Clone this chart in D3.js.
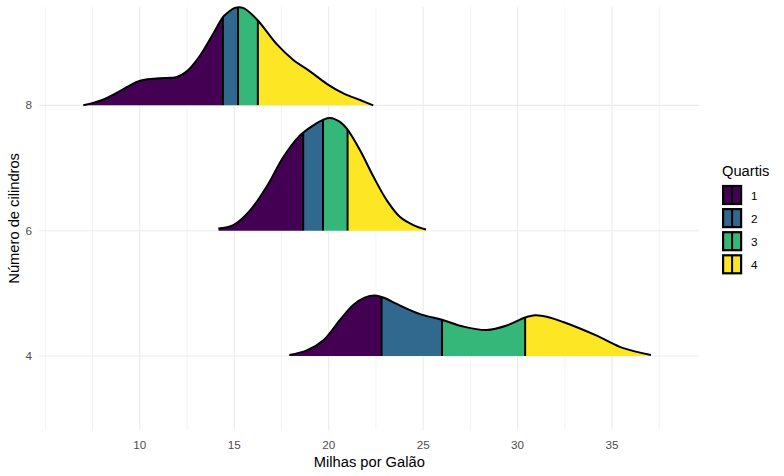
<!DOCTYPE html>
<html>
<head>
<meta charset="utf-8">
<script src="https://cdn.jsdelivr.net/npm/d3@7"></script>
<style>
  body { margin: 0; background: #fff; }
  svg text { font-family: "Liberation Sans", Arial, sans-serif; }
</style>
</head>
<body>
<div id="chart"></div>
<script>
var width = 784,
    height = 476;

// categories (cylinders), bottom to top
var cylinders = ["4", "6", "8"];

// relative density: [mpg, density]
var dens4 = [[17.92, 0.01], [18.84, 0.05], [19.72, 0.14], [20.6, 0.32], [21.3, 0.45], [21.9, 0.515],
  [22.45, 0.535], [23.0, 0.51], [23.6, 0.46], [24.84, 0.37], [26.0, 0.32], [27.13, 0.26], [28.37, 0.23],
  [29.43, 0.27], [30.4, 0.34], [30.93, 0.36], [31.6, 0.345], [32.42, 0.30], [34.19, 0.18], [35.6, 0.07], [37.06, 0.01]];
var dens6 = [[14.16, 0.02], [14.95, 0.05], [15.84, 0.18], [16.72, 0.39], [17.6, 0.65], [18.48, 0.84],
  [19.19, 0.93], [19.72, 0.98], [20.07, 0.995], [20.6, 0.96], [20.96, 0.90], [21.66, 0.71],
  [22.36, 0.48], [23.07, 0.27], [23.78, 0.12], [24.48, 0.05], [25.15, 0.01]];
var dens8 = [[7.01, 0.0], [8.05, 0.05], [9.31, 0.16], [9.8, 0.205], [10.4, 0.23], [11.07, 0.24], [11.96, 0.25],
  [12.49, 0.30], [13.19, 0.44], [13.88, 0.63], [14.41, 0.78], [14.6, 0.81], [15.04, 0.86],
  [15.47, 0.86], [16.19, 0.76], [17.25, 0.54], [18.13, 0.40], [19.01, 0.30], [19.9, 0.19],
  [20.78, 0.105], [21.66, 0.047], [22.36, 0.0]];

// quartiles (Q1, median, Q3)
var quart4 = [22.8, 26.0, 30.4];
var quart6 = [18.65, 19.7, 21.0];
var quart8 = [14.4, 15.2, 16.25];

var quartLabels = ["1", "2", "3", "4"];
var quartColors = ["#440154", "#31688E", "#35B779", "#FDE725"];

var xTicks = [10, 15, 20, 25, 30, 35];
var xMinor = [5, 7.5, 12.5, 17.5, 22.5, 27.5, 32.5, 37.5];

var ridges = [
  { cyl: "8", dens: dens8, q: quart8 },
  { cyl: "6", dens: dens6, q: quart6 },
  { cyl: "4", dens: dens4, q: quart4 }
];

var panel = { left: 39.3, right: 699.3, top: 6.7, bottom: 430 };

var x = d3.scaleLinear()
    .domain([4.68, 39.62])
    .range([panel.left, panel.right]);

// vertical position in category units (4 -> 1, 6 -> 2, 8 -> 3)
var y = d3.scaleLinear()
    .domain([0.41, 3.787])
    .range([panel.bottom, panel.top]);

var heightScale = 0.904; // density 1 in category units
var curve = d3.curveCatmullRom.alpha(0.5);

var svg = d3.select("#chart").append("svg")
    .attr("width", width)
    .attr("height", height);

// grid
var grid = svg.append("g");
grid.selectAll(".minor").data(xMinor).enter().append("line")
    .attr("x1", d => x(d)).attr("x2", d => x(d))
    .attr("y1", panel.top).attr("y2", panel.bottom)
    .attr("stroke", "#EBEBEB").attr("stroke-width", 0.6);
grid.selectAll(".major").data(xTicks).enter().append("line")
    .attr("x1", d => x(d)).attr("x2", d => x(d))
    .attr("y1", panel.top).attr("y2", panel.bottom)
    .attr("stroke", "#EBEBEB").attr("stroke-width", 1.1);
grid.selectAll(".hmajor").data(cylinders).enter().append("line")
    .attr("x1", panel.left).attr("x2", panel.right)
    .attr("y1", (d, i) => y(i + 1)).attr("y2", (d, i) => y(i + 1))
    .attr("stroke", "#EBEBEB").attr("stroke-width", 1.1);

// ridges
var defs = svg.append("defs");

ridges.forEach(function(r) {
  var idx = cylinders.indexOf(r.cyl) + 1;
  var area = d3.area()
      .x(d => x(d[0]))
      .y0(y(idx))
      .y1(d => y(idx + d[1] * heightScale))
      .curve(curve);
  var line = d3.line()
      .x(d => x(d[0]))
      .y(d => y(idx + d[1] * heightScale))
      .curve(curve);

  var id = "clip" + r.cyl;
  defs.append("clipPath").attr("id", id)
    .append("path").attr("d", area(r.dens));

  var g = svg.append("g").attr("clip-path", "url(#" + id + ")");
  var bounds = [r.dens[0][0]].concat(r.q, [r.dens[r.dens.length - 1][0]]);
  g.selectAll("rect").data(quartColors).enter().append("rect")
      .attr("x", (d, i) => x(bounds[i]))
      .attr("width", (d, i) => x(bounds[i + 1]) - x(bounds[i]))
      .attr("y", y(idx + 1.2))
      .attr("height", y(idx) - y(idx + 1.2) + 1)
      .attr("fill", d => d);
  g.selectAll("line").data(r.q).enter().append("line")
      .attr("x1", d => x(d)).attr("x2", d => x(d))
      .attr("y1", y(idx)).attr("y2", y(idx + 1.2))
      .attr("stroke", "#000").attr("stroke-width", 2);

  svg.append("path")
      .attr("d", line(r.dens))
      .attr("fill", "none")
      .attr("stroke", "#000")
      .attr("stroke-width", 2)
      .attr("stroke-linejoin", "round");
});

// axes labels
svg.append("g").selectAll("text").data(xTicks).enter().append("text")
    .attr("x", d => x(d)).attr("y", 449)
    .attr("text-anchor", "middle")
    .attr("font-size", 11.7).attr("fill", "#4D4D4D")
    .text(d => d);

svg.append("g").selectAll("text").data(cylinders).enter().append("text")
    .attr("x", 32).attr("y", (d, i) => y(i + 1) + 4)
    .attr("text-anchor", "end")
    .attr("font-size", 11.7).attr("fill", "#4D4D4D")
    .text(d => d);

svg.append("text")
    .attr("x", (panel.left + panel.right) / 2).attr("y", 467)
    .attr("text-anchor", "middle")
    .attr("font-size", 14.7).attr("fill", "#000")
    .text("Milhas por Galão");

svg.append("text")
    .attr("transform", "translate(19," + ((panel.top + panel.bottom) / 2) + ") rotate(-90)")
    .attr("text-anchor", "middle")
    .attr("font-size", 14.7).attr("fill", "#000")
    .text("Número de cilindros");

// legend
var legend = svg.append("g").attr("transform", "translate(722,0)");
legend.append("text")
    .attr("x", 0).attr("y", 176)
    .attr("font-size", 14.7).attr("fill", "#000")
    .text("Quartis");

var keys = legend.selectAll(".key").data(quartLabels).enter().append("g")
    .attr("transform", (d, i) => "translate(0," + (186 + i * 23.1) + ")");
keys.append("rect")
    .attr("x", 1.1).attr("y", 0)
    .attr("width", 18).attr("height", 18)
    .attr("fill", (d, i) => quartColors[i])
    .attr("stroke", "#000").attr("stroke-width", 2.2);
keys.append("line")
    .attr("x1", 10.1).attr("x2", 10.1)
    .attr("y1", 0).attr("y2", 18)
    .attr("stroke", "#000").attr("stroke-width", 2);
keys.append("text")
    .attr("x", 29).attr("y", 13.5)
    .attr("font-size", 11.7).attr("fill", "#000")
    .text(d => d);
</script>
</body>
</html>
